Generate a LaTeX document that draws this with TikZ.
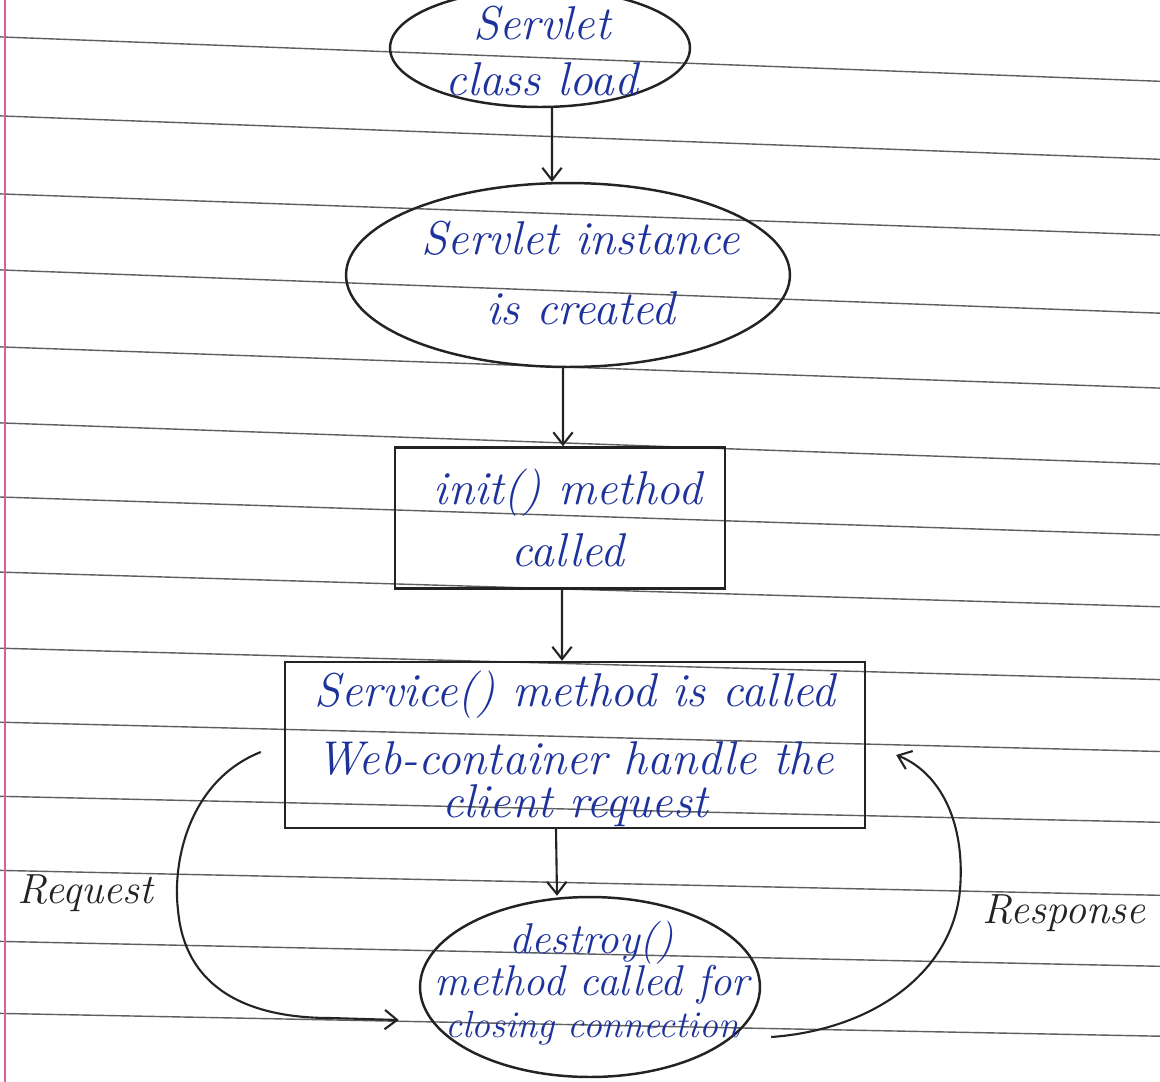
\documentclass[tikz,border=0pt]{standalone}
\usepackage{fontspec}
\usetikzlibrary{shapes.geometric,arrows.meta,calc}
\definecolor{ink}{RGB}{30,50,155}
\definecolor{pen}{RGB}{35,35,35}
\definecolor{ruleline}{RGB}{95,95,95}
\definecolor{marginpink}{RGB}{215,95,150}
\begin{document}
\begin{tikzpicture}[x=0.02cm,y=-0.02cm,
  shapeline/.style={draw=pen,line width=1.4pt},
  oval/.style={shapeline,ellipse,inner sep=0pt},
  stepbox/.style={shapeline,rectangle,inner sep=0pt},
  hand/.style={text=ink,align=center,inner sep=0pt},
  sidetext/.style={text=pen,inner sep=0pt,font=\fontsize{24}{28}\selectfont\itshape},
  arr/.style={draw=pen,line width=1.2pt,-{Straight Barb[length=7pt,width=11pt]}},
  ruled/.style={draw=ruleline,line width=0.8pt}]
\useasboundingbox (0,0) rectangle (1160,1082);
\fill[white] (0,0) rectangle (1160,1082);
% ruled paper
\foreach \a/\b in {36.9/81.3,115.9/159.3,193.9/235.1,269.9/313.2,346.9/388.1,422.9/464.1,497.0/535.0,572.1/606.8,648.2/679.6,722.2/751.5,796.3/822.3,870.4/895.3,941.4/966.3,1013.4/1036.2}
  \draw[ruled] (0,\a) -- (1160,\b);
\draw[draw=marginpink,line width=1pt] (5,0) -- (5,1082);

% shapes
\node[oval,minimum width=6cm,minimum height=2.36cm] (e1) at (540,48) {};
\node[oval,minimum width=8.88cm,minimum height=3.68cm] (e2) at (568,275) {};
\node[stepbox,minimum width=6.6cm,minimum height=2.82cm] (b3) at (560,518) {};
\node[stepbox,minimum width=11.6cm,minimum height=3.32cm] (b4) at (575,745) {};
\node[oval,minimum width=6.8cm,minimum height=3.6cm] (e5) at (590,987) {};

% texts
\node[hand,font=\fontsize{27}{32}\selectfont\itshape] (t1) at (542,51) {Servlet\\class load};
\node[hand,font=\fontsize{27}{40}\selectfont\itshape] (t2) at (581,273) {Servlet instance\\is created};
\node[hand,font=\fontsize{27}{35}\selectfont\itshape] (t3) at (568,518) {init() method\\called};
\node[hand,font=\fontsize{27}{25}\selectfont\itshape] (t4) at (575,749) {Service() method is called\\[12pt]Web-container handle the\\client request};
\node[hand,font=\fontsize{24.5}{24}\selectfont\itshape] (t5) at (592,983) {destroy()\\method called for\\{\fontsize{21.5}{24}\selectfont closing connection}};

\node[sidetext] (rq) at (85,893) {Request};
\node[sidetext] (rs) at (1064,913) {Response};

% connectors
\draw[arr] ([xshift=0.24cm]e1.south) -- ([xshift=-0.32cm]e2.north);
\draw[arr] ([xshift=-0.1cm]e2.south) -- ([xshift=0.06cm]b3.north);
\draw[arr] ([xshift=0.04cm]b3.south) -- ([xshift=-0.26cm]b4.north);
\draw[arr] ([xshift=-0.38cm]b4.south) -- ([xshift=-0.66cm]e5.north);

\coordinate (rqA) at ($(b4.west)+(-23,7)$);
\coordinate (rqB) at ($(e5.west)+(-20,33)$);
\draw[arr] (rqA) .. controls (190,780) and (172,860) .. (178,910)
  .. controls (185,990) and (250,1018) .. (330,1018) -- (rqB);

\coordinate (rsA) at ($(e5.east)+(10,50)$);
\coordinate (rsB) at ($(b4.east)+(30,10)$);
\draw[arr] (rsA) .. controls (870,1030) and (952,975) .. (960,890)
  .. controls (966,815) and (935,770) .. (rsB);
\end{tikzpicture}
\end{document}
